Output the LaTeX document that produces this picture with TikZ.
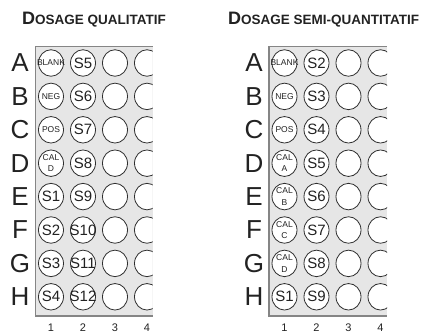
\documentclass[tikz,border=0pt]{standalone}
\usepackage{fontspec}
\setmainfont{Liberation Sans}
\usetikzlibrary{positioning, shapes.geometric}
\definecolor{platefill}{HTML}{E6E6E6}
\definecolor{plateedge}{HTML}{858585}
\definecolor{wellline}{HTML}{2E2E2E}
\definecolor{inkdark}{HTML}{222222}

\begin{document}
\begin{tikzpicture}[x=1pt, y=-1pt,
    well/.style={ellipse, draw=wellline, fill=white, line width=0.8pt,
                 minimum width=25pt, minimum height=26.5pt, inner sep=0pt},
    wsmall/.style={font=\fontsize{8.5}{11.5}\selectfont, align=center, text=inkdark, inner sep=0pt},
    wbig/.style={font=\fontsize{15}{15}\selectfont, text=inkdark, inner sep=0pt},
    rowlbl/.style={font=\fontsize{26}{26}\selectfont, text=inkdark},
    collbl/.style={font=\fontsize{11}{11}\selectfont, text=inkdark},
    heading/.style={anchor=west, font=\bfseries, text=inkdark, inner sep=0pt},
    plate/.style={fill=platefill},
    rim/.style={draw=plateedge, line width=1.3pt},
]
    \useasboundingbox (0,0) rectangle (432,334);

    % Titles
    \node[heading] (t-qual) at (22,20)
        {\fontsize{18}{18}\selectfont D\fontsize{13.5}{13.5}\selectfont OSAGE QUALITATIF};
    \node[heading] (t-semi) at (228,20)
        {\fontsize{18}{18}\selectfont D\fontsize{13.5}{13.5}\selectfont OSAGE SEMI-QUANTITATIF};

    % Left plate
    \fill[plate] (35.5,46.5) rectangle (152.5,316);
    \draw[rim] (152.5,46.5) -- (35.5,46.5) -- (35.5,316) -- (152.5,316);
    \begin{scope}
        \clip (35.5,46.5) rectangle (152.5,316);
        \foreach \r/\row/\ta/\sa/\tb in {
            1/A/BLANK/wsmall/S5, 2/B/NEG/wsmall/S6,
            3/C/POS/wsmall/S7, 4/D/{CAL\\D}/wsmall/S8,
            5/E/S1/wbig/S9, 6/F/S2/wbig/S10,
            7/G/S3/wbig/S11, 8/H/S4/wbig/S12} {
            \node[well, label={[\sa]center:\ta}] (q-\row1) at (51, {63+33.4*(\r-1)}) {};
            \node[well, label={[wbig]center:\tb}] (q-\row2) at (83, {63+33.4*(\r-1)}) {};
            \node[well] (q-\row3) at (115, {63+33.4*(\r-1)}) {};
            \node[well] (q-\row4) at (147, {63+33.4*(\r-1)}) {};
        }
    \end{scope}
    \foreach \r/\row in {1/A, 2/B, 3/C, 4/D, 5/E, 6/F, 7/G, 8/H}
        \node[rowlbl] (q-r\row) at (20, {63+33.4*(\r-1)}) {\row};
    \foreach \c in {1,...,4}
        \node[collbl] (q-c\c) at ({51+32*(\c-1)}, 328) {\c};

    % Right plate
    \fill[plate] (269,46.5) rectangle (387,316);
    \draw[rim] (387,46.5) -- (269,46.5) -- (269,316) -- (387,316);
    \begin{scope}
        \clip (269,46.5) rectangle (387,316);
        \foreach \r/\row/\ta/\sa/\tb in {
            1/A/BLANK/wsmall/S2, 2/B/NEG/wsmall/S3,
            3/C/POS/wsmall/S4, 4/D/{CAL\\A}/wsmall/S5,
            5/E/{CAL\\B}/wsmall/S6, 6/F/{CAL\\C}/wsmall/S7,
            7/G/{CAL\\D}/wsmall/S8, 8/H/S1/wbig/S9} {
            \node[well, label={[\sa]center:\ta}] (s-\row1) at (284.5, {63+33.4*(\r-1)}) {};
            \node[well, label={[wbig]center:\tb}] (s-\row2) at (316.5, {63+33.4*(\r-1)}) {};
            \node[well] (s-\row3) at (348.5, {63+33.4*(\r-1)}) {};
            \node[well] (s-\row4) at (380.5, {63+33.4*(\r-1)}) {};
        }
    \end{scope}
    \foreach \r/\row in {1/A, 2/B, 3/C, 4/D, 5/E, 6/F, 7/G, 8/H}
        \node[rowlbl] (s-r\row) at (254, {63+33.4*(\r-1)}) {\row};
    \foreach \c in {1,...,4}
        \node[collbl] (s-c\c) at ({284.5+32*(\c-1)}, 328) {\c};
\end{tikzpicture}
\end{document}
